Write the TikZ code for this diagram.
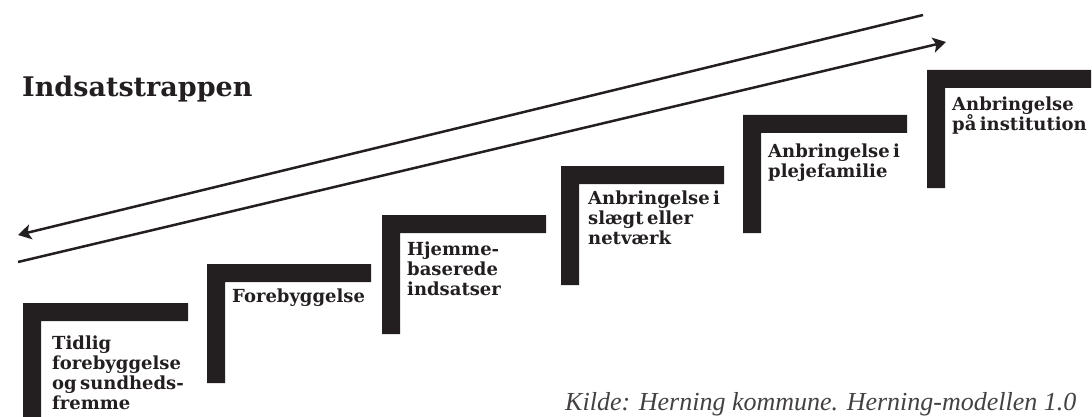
\documentclass[tikz,border=0pt]{standalone}
\usepackage{fontspec}
\setmainfont{DejaVu Serif}
\newfontfamily\stepface{DejaVu Serif}[WordSpace=0.55]
\newfontfamily\capfont{Liberation Serif}
\usetikzlibrary{arrows.meta}
\definecolor{ink}{HTML}{231F20}
\begin{document}
\begin{tikzpicture}[x=1pt,y=-1pt,
  stepfont/.style={font=\stepface\bfseries\fontsize{18}{20}\selectfont, text=ink,
    anchor=north west, inner sep=0pt, align=left},
  flow/.style={draw=ink, line width=2.5pt,
    -{Stealth[length=13pt,width=15pt,inset=3pt]}}]
\useasboundingbox (0,0) rectangle (1092,417);
\clip (0,0) rectangle (1092,417);

% the six L-shaped steps of the staircase
\foreach \xa/\ya/\xb/\yb in {23/303/188/440, 207/264/371/383, 382/215/546/334,
                             561/166/724/285, 743/115/907/233, 927/70/1091/188}
  \fill[ink] (\xa,\yb) -- (\xa,\ya) -- (\xb,\ya) -- (\xb,\ya+18)
             -- (\xa+18,\ya+18) -- (\xa+18,\yb) -- cycle;

% step labels
\node[stepfont] (s1) at (52,336) {Tidlig\\forebyggelse\\og sundheds-\\fremme};
\node[stepfont] (s2) at (232,289) {Forebyggelse};
\node[stepfont] (s3) at (407,242) {Hjemme-\\baserede\\indsatser};
\node[stepfont] (s4) at (588,191) {Anbringelse i\\slægt eller\\netværk};
\node[stepfont] (s5) at (768,144) {Anbringelse i\\plejefamilie};
\node[stepfont] (s6) at (952,97) {Anbringelse\\på institution};

% title and source
\node[anchor=base west, inner sep=0pt, text=ink,
      font=\bfseries\fontsize{27}{30}\selectfont] (title) at (22,97) {Indsatstrappen};
\node[anchor=base west, inner sep=0pt, text=ink!85,
      font=\capfont\itshape\fontsize{26}{30}\selectfont] (src) at (565,410.5)
      {Kilde: Herning kommune. Herning-modellen 1.0};

% the two arrows along the staircase
\coordinate (a1) at (923,15);
\coordinate (a2) at (18,235);
\coordinate (b1) at (18,262);
\coordinate (b2) at (946,42);
\draw[flow] (a1) -- (a2);
\draw[flow] (b1) -- (b2);
\end{tikzpicture}
\end{document}
